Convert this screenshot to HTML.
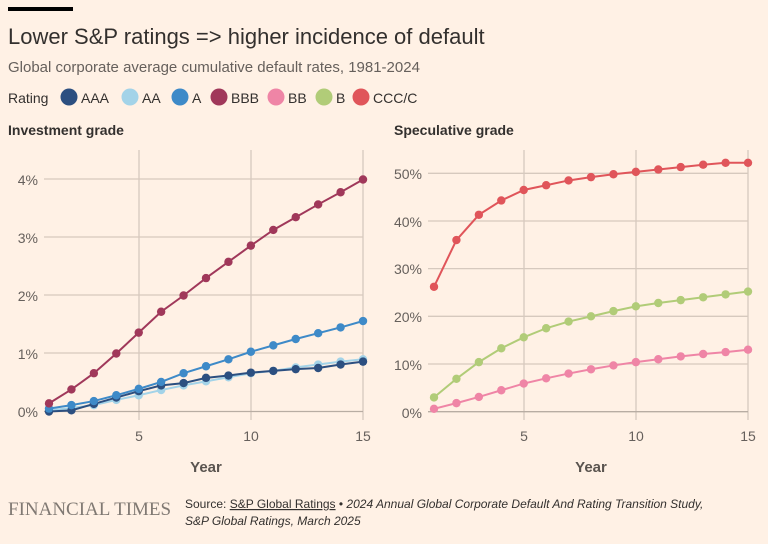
<!DOCTYPE html>
<html><head><meta charset="utf-8"><style>
body{margin:0;background:#fff1e5;width:768px;height:539px;overflow:hidden;font-family:"Liberation Sans",sans-serif}
</style></head><body>
<svg id="s" width="768" height="539" xmlns="http://www.w3.org/2000/svg" font-family="Liberation Sans, sans-serif">
<rect width="768" height="539" fill="#fff1e5"/>
<rect x="8" y="7" width="65" height="4" fill="#000"/>
<text x="8" y="44" font-size="22" fill="#33302e">Lower S&amp;P ratings =&gt; higher incidence of default</text>
<text x="8" y="72" font-size="15" fill="#66605c">Global corporate average cumulative default rates, 1981-2024</text>
<text x="8" y="103" font-size="14" fill="#33302e">Rating</text>
<g font-size="14" fill="#33302e">
<circle cx="69" cy="97" r="8.5" fill="#2c4f80"/><text x="81" y="103">AAA</text>
<circle cx="130" cy="97" r="8.5" fill="#a3d3e8"/><text x="142" y="103">AA</text>
<circle cx="180" cy="97" r="8.5" fill="#3e8ac8"/><text x="192" y="103">A</text>
<circle cx="219" cy="97" r="8.5" fill="#a0385a"/><text x="231" y="103">BBB</text>
<circle cx="276" cy="97" r="8.5" fill="#ef85a6"/><text x="288" y="103">BB</text>
<circle cx="324" cy="97" r="8.5" fill="#b1cc78"/><text x="336" y="103">B</text>
<circle cx="361" cy="97" r="8.5" fill="#e0555a"/><text x="373" y="103">CCC/C</text>
</g>
<text x="8" y="135" font-size="14" font-weight="bold" fill="#33302e">Investment grade</text>
<text x="394" y="135" font-size="14" font-weight="bold" fill="#33302e">Speculative grade</text>
<g id="grid" stroke="#d6c9be" stroke-width="1.3"></g>
<g font-size="14" fill="#66605c" text-anchor="end">
<text x="38" y="185">4%</text><text x="38" y="243">3%</text><text x="38" y="301">2%</text><text x="38" y="359">1%</text><text x="38" y="417">0%</text>
<text x="422" y="179">50%</text><text x="422" y="227">40%</text><text x="422" y="274">30%</text><text x="422" y="322">20%</text><text x="422" y="370">10%</text><text x="422" y="418">0%</text>
</g>
<g font-size="14" fill="#66605c" text-anchor="middle">
<text x="139" y="441">5</text><text x="251" y="441">10</text><text x="363" y="441">15</text>
<text x="524" y="441">5</text><text x="636" y="441">10</text><text x="748" y="441">15</text>
<text x="206" y="472" font-weight="bold" font-size="15" fill="#5a544f">Year</text>
<text x="591" y="472" font-weight="bold" font-size="15" fill="#5a544f">Year</text>
</g>
<g id="series"></g>
<text x="8" y="515" font-family="Liberation Serif, serif" font-size="19" fill="#807973">FINANCIAL TIMES</text>
<text x="185" y="508" font-size="12" fill="#33302e">Source: <tspan text-decoration="underline">S&amp;P Global Ratings</tspan> • <tspan font-style="italic">2024 Annual Global Corporate Default And Rating Transition Study,</tspan></text>
<text x="185" y="525" font-size="12" font-style="italic" fill="#33302e">S&amp;P Global Ratings, March 2025</text>
</svg>
<script>
var NS="http://www.w3.org/2000/svg";
function el(p,t,a){var e=document.createElementNS(NS,t);for(var k in a)e.setAttribute(k,a[k]);p.appendChild(e);return e;}
var g=document.getElementById('grid'),s=document.getElementById('series');
[139,251,363].forEach(function(x){el(g,'line',{x1:x,x2:x,y1:150,y2:420});});
[179,237,295,353].forEach(function(y){el(g,'line',{x1:44,x2:363,y1:y,y2:y});});
el(g,'line',{x1:44,x2:363,y1:411.5,y2:411.5,stroke:'#b8ada3'});
[524,636,748].forEach(function(x){el(g,'line',{x1:x,x2:x,y1:150,y2:420});});
[173.3,221,268.6,316.3,364].forEach(function(y){el(g,'line',{x1:428,x2:748,y1:y,y2:y});});
el(g,'line',{x1:428,x2:748,y1:411.7,y2:411.7,stroke:'#b8ada3'});
function draw(d,c,x0,y0,sc){var pts=d.map(function(v,i){return [x0+i*22.43,y0-v*sc];});
el(s,'polyline',{points:pts.map(function(p){return p.join(',');}).join(' '),fill:'none',stroke:c,'stroke-width':2});
pts.forEach(function(p){el(s,'circle',{cx:p[0],cy:p[1],r:4.2,fill:c});});}
var L=[49,411.5,58],R=[434,411.7,4.768];
draw([0.02,0.06,0.11,0.2,0.28,0.37,0.45,0.52,0.59,0.66,0.70,0.76,0.81,0.86,0.90],'#a3d3e8',L[0],L[1],L[2]);
draw([0,0.02,0.13,0.24,0.35,0.45,0.49,0.58,0.62,0.67,0.70,0.73,0.75,0.81,0.86],'#2c4f80',L[0],L[1],L[2]);
draw([0.05,0.11,0.18,0.28,0.39,0.51,0.66,0.78,0.9,1.03,1.14,1.25,1.35,1.45,1.56],'#3e8ac8',L[0],L[1],L[2]);
draw([0.14,0.38,0.66,1.0,1.36,1.72,2.0,2.3,2.58,2.86,3.13,3.35,3.57,3.78,4.0],'#a0385a',L[0],L[1],L[2]);
draw([0.6,1.8,3.1,4.5,5.9,7,8,8.9,9.7,10.4,11,11.6,12.1,12.5,13],'#ef85a6',R[0],R[1],R[2]);
draw([3,6.9,10.4,13.3,15.6,17.5,18.9,20,21.1,22.1,22.8,23.4,24,24.6,25.2],'#b1cc78',R[0],R[1],R[2]);
draw([26.2,36,41.3,44.3,46.5,47.5,48.5,49.2,49.8,50.3,50.8,51.3,51.8,52.2,52.2],'#e0555a',R[0],R[1],R[2]);
</script>
</body></html>
